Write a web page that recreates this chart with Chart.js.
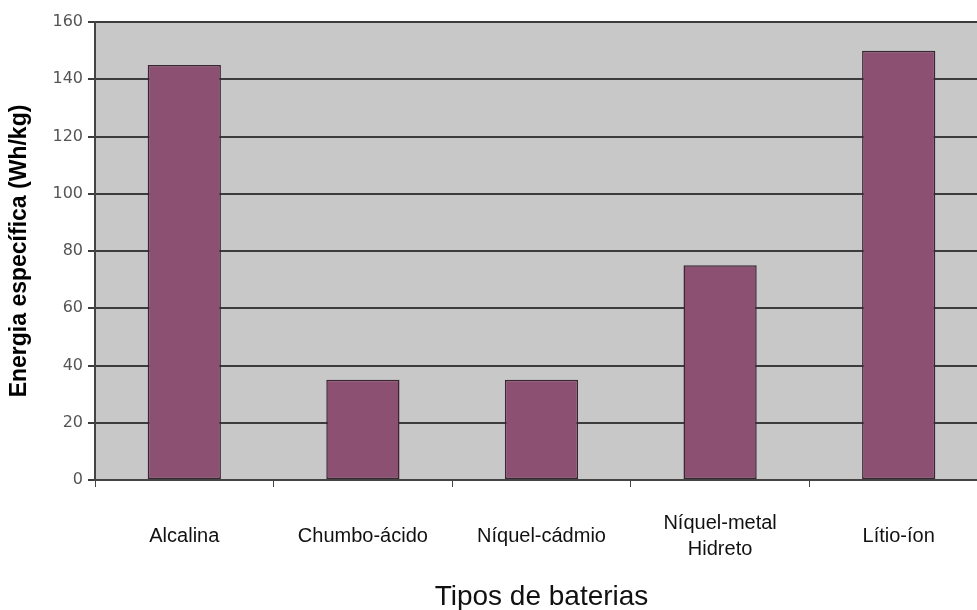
<!DOCTYPE html>
<html>
<head>
<meta charset="utf-8">
<script src="https://cdn.jsdelivr.net/npm/chart.js@4/dist/chart.umd.min.js"></script>
<style>
  html, body { margin: 0; padding: 0; background: #fff; overflow: hidden; }
  #wrap { width: 1000px; height: 610px; }
</style>
</head>
<body>
<div id="wrap"><canvas id="energyChart" width="1000" height="610"></canvas></div>
<script>
// Energia específica por tipo de bateria
const batteryTypes = ['Alcalina', 'Chumbo-ácido', 'Níquel-cádmio', ['Níquel-metal', 'Hidreto'], 'Lítio-íon'];
const specificEnergy = [145, 35, 35, 75, 150];
const yTicks = [0, 20, 40, 60, 80, 100, 120, 140, 160];

// gray plot background
const plotBackground = {
    id: 'plotBackground',
    beforeDraw(chart) {
        const { ctx, chartArea } = chart;
        ctx.save();
        ctx.fillStyle = '#c8c8c8';
        ctx.fillRect(chartArea.left, chartArea.top, chartArea.right - chartArea.left, chartArea.bottom - chartArea.top);
        ctx.restore();
    }
};

new Chart(document.getElementById('energyChart'), {
    type: 'bar',
    data: {
        labels: batteryTypes,
        datasets: [{
            data: specificEnergy,
            backgroundColor: '#8b5072',
            borderColor: '#3a2630',
            borderWidth: 1.5,
            borderSkipped: false,
            categoryPercentage: 1,
            barPercentage: 0.41
        }]
    },
    options: {
        responsive: false,
        animation: false,
        layout: { padding: { top: 22, right: 12, bottom: 0, left: 0 } },
        plugins: {
            legend: { display: false },
            tooltip: { enabled: false }
        },
        scales: {
            x: {
                afterFit(scale) { scale.height = 130; },
                grid: { display: true, drawOnChartArea: false, offset: true, tickLength: 7, color: '#444', lineWidth: 1 },
                border: { display: true, color: '#444', width: 2 },
                ticks: {
                    color: '#111',
                    font: { family: 'Liberation Sans', size: 20, lineHeight: 1.3 },
                    padding: 36,
                    crossAlign: 'center',
                    maxRotation: 0,
                    autoSkip: false
                },
                title: {
                    display: true,
                    text: 'Tipos de baterias',
                    color: '#111',
                    font: { family: 'Liberation Sans', size: 28, lineHeight: 0.9 },
                    padding: { top: 0, bottom: 0 }
                }
            },
            y: {
                min: 0,
                max: 160,
                afterFit(scale) { scale.width = 95; },
                afterBuildTicks(scale) { scale.ticks = yTicks.map(v => ({ value: v })); },
                grid: { color: '#3c3c3c', lineWidth: 2, tickLength: 7 },
                border: { display: true, color: '#444', width: 2 },
                ticks: {
                    color: '#555',
                    font: { family: 'DejaVu Sans', size: 16 },
                    padding: 5
                },
                title: {
                    display: true,
                    text: 'Energia específica (Wh/kg)',
                    color: '#000',
                    font: { family: 'Liberation Sans', size: 23, weight: 'bold' },
                    padding: { top: 6, bottom: 0 }
                }
            }
        }
    },
    plugins: [plotBackground]
});
</script>
</body>
</html>
